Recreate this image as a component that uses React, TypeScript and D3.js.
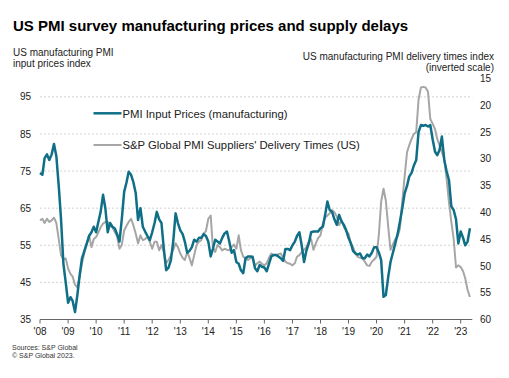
import React from "react";
import * as d3 from "d3";

// Monthly data, Jan 2008 – May 2023
const inputPrices: number[] = [
  // 2008
  74.5, 74, 78.5, 79.5, 78, 79.5, 82.3, 79, 71, 62, 50, 45,
  // 2009
  39.5, 41, 40, 37, 41.5, 47, 51.5, 53.5, 55.5, 57.5, 58.5, 60,
  // 2010
  58.5, 61.5, 64, 68.6, 65, 58.5, 61, 60, 59.5, 58, 56, 62,
  // 2011
  69.4, 72, 74.8, 74, 72, 69, 61.8, 65, 60, 58.7, 57.5, 56.4,
  // 2012
  58.5, 61, 64, 62, 61, 54, 48.3, 49, 51, 56, 63.6, 61,
  // 2013
  59, 58, 56, 53, 53.5, 54.5, 56.5, 56, 57, 57, 58, 57.5,
  // 2014
  56, 52, 54, 56.5, 56, 55.5, 57, 58.2, 58.7, 56, 53, 53.7,
  // 2015
  50.5, 50, 48.3, 47.5, 51.5, 52, 52, 51.9, 48.8, 48, 49.7, 49.2,
  // 2016
  49, 48, 50, 52, 52.4, 52.4, 52, 51.5, 50.8, 54, 54, 53.7,
  // 2017
  55, 56, 57.5, 58.5, 55, 50.5, 53.5, 55.5, 58.5, 58.7, 58.7, 58.7,
  // 2018
  59.6, 60, 63, 66.8, 64.5, 64, 62, 60.5, 63.2, 61.5, 60.5, 59.1,
  // 2019
  57, 55.5, 53.5, 52.8, 52.5, 52.8, 51.5, 51.5, 52.5, 52, 53, 54.5,
  // 2020
  54.5, 53, 51, 41.1, 41.6, 46.5, 50.5, 53, 55.5, 58, 61.4, 65,
  // 2021
  69, 71, 73.5, 74.5, 76.5, 78, 85.5, 87.4, 87.2, 87.4, 87, 87.4,
  // 2022
  83.5, 80.2, 79.3, 80.7, 84.3, 78, 75, 72.6, 65.5, 64.5, 62, 55.5,
  // 2023
  58.7, 57, 55, 56, 59.6,
];

const deliveryTimes: number[] = [
  // 2008
  41.5, 41.2, 42, 41.2, 41.8, 41.5, 41, 42, 45, 48, 48.8, 48.6,
  // 2009
  50.5, 51.5, 52, 53.5, 54, 52, 49.5, 47.5, 46, 44.3, 46.5, 45,
  // 2010
  44.6, 43.7, 42.8, 42.1, 41.8, 41.8, 42.4, 42.8, 43.7, 44.5, 46.8, 46.1,
  // 2011
  43.4, 42.5, 41.8, 41.2, 42.4, 44, 45.8, 44.3, 45.2, 45, 44.6, 45.5,
  // 2012
  46.8, 45.5, 45.5, 47.1, 46.1, 47.5, 49.5, 48.9, 48, 47, 45.8, 46.5,
  // 2013
  47.7, 48.5, 48.9, 47.4, 48.5, 49.9, 48, 46.1, 45.5, 45.2, 44, 43.5,
  // 2014
  41.2, 40.6, 46.5, 47.4, 46.1, 46.5, 47.1, 46.8, 47, 47.1, 46.5, 46,
  // 2015
  46.8, 44.3, 47, 48.3, 48.5, 48.9, 48.6, 48.5, 50, 49.5, 49.2, 49.6,
  // 2016
  49.9, 49.5, 48.5, 47.7, 48, 48, 47.8, 47.7, 48.5, 49.2, 49.5, 49.6,
  // 2017
  49.9, 49.5, 48.3, 48, 47.4, 47, 46.5, 45.5, 45, 47, 45.8, 44.8,
  // 2018
  44.3, 42.1, 41, 40.6, 40.2, 39.6, 40, 40.8, 42.4, 41.5, 42.7, 43.5,
  // 2019
  44, 45.8, 46.5, 47.7, 48.3, 48.5, 48.6, 49.2, 49.9, 50, 49.2, 48.8,
  // 2020
  48.3, 44, 38, 35.6, 37.8, 42.7, 47, 46, 45, 44.5, 43, 38,
  // 2021
  33.3, 28.8, 27.5, 26.3, 25.4, 25, 19, 16.7, 16.6, 16.7, 17.5, 22.6,
  // 2022
  23.5, 24.5, 26.3, 27.5, 28.8, 30, 33.7, 38.1, 41.8, 44.9, 50.3, 49.9,
  // 2023
  50.2, 51, 52.3, 54.5, 55.8,
];

const leftTicks: number[] = [35, 45, 55, 65, 75, 85, 95];
const rightTicks: number[] = [15, 20, 25, 30, 35, 40, 45, 50, 55, 60];
const yearTicks: number[] = d3.range(2008, 2024);

const title = "US PMI survey manufacturing prices and supply delays";
const leftTitle = ["US manufacturing PMI", "input prices index"];
const rightTitle = ["US manufacturing PMI delivery times index", "(inverted scale)"];
const legendLabels = ["PMI Input Prices (manufacturing)", "S&P Global PMI Suppliers' Delivery Times (US)"];
const sources = ["Sources: S&P Global", "© S&P Global 2023."];

const TEAL = "#0f6f86";
const GREY = "#a6a6a6";
const FONT = "'Liberation Sans', Arial, Helvetica, sans-serif";

export default function App() {
  const W = 509, H = 378;
  const plotTop = 78.3, plotBottom = 319.5;
  const x = d3.scaleTime()
    .domain([new Date(2008, 0, 1), new Date(2023, 0, 1)])
    .range([40, 460.7]);
  const yL = d3.scaleLinear().domain([35, 100]).range([plotBottom, plotTop]);
  const yR = d3.scaleLinear().domain([60, 15]).range([plotBottom, plotTop]);
  const dates = inputPrices.map((_, i) => new Date(2008, i, 1));
  const axisStart = x(new Date(2008, 0, 1));
  const axisEnd = x(new Date(2023, 5, 1));

  const lineL = d3.line<number>().x((_, i) => x(dates[i])).y(d => yL(d));
  const lineR = d3.line<number>().x((_, i) => x(dates[i])).y(d => yR(d));

  return (
    <svg width={W} height={H} style={{ position: "absolute", left: 0, top: 0, background: "#fff" }} fontFamily={FONT}>
      <rect width={W} height={H} fill="#fff" />
      <text x={13} y={31} fontSize={15} fontWeight="bold" fill="#000">{title}</text>
      {leftTitle.map((t, i) => (
        <text key={t} x={13} y={56 + i * 10.5} fontSize={10} fill="#222">{t}</text>
      ))}
      {rightTitle.map((t, i) => (
        <text key={t} x={494} y={59.5 + i * 11} fontSize={10} fill="#222" textAnchor="end">{t}</text>
      ))}
      {/* gridlines */}
      {leftTicks.filter(t => t > 35).map(t => (
        <line key={t} x1={axisStart} x2={axisEnd} y1={yL(t)} y2={yL(t)} stroke="#c8c8c8" strokeWidth={0.8} strokeDasharray="2,2" />
      ))}
      {/* left labels */}
      {leftTicks.map(t => (
        <text key={t} x={31} y={yL(t) + 3.6} fontSize={10} fill="#222" textAnchor="end">{t}</text>
      ))}
      {/* right labels */}
      {rightTicks.map(t => (
        <text key={t} x={491} y={yR(t) + 3.6} fontSize={10} fill="#222" textAnchor="end">{t}</text>
      ))}
      {/* x axis */}
      <line x1={axisStart} x2={axisEnd} y1={plotBottom} y2={plotBottom} stroke="#666" strokeWidth={1} />
      {yearTicks.map(yr => {
        const xx = x(new Date(yr, 0, 1));
        return (
          <g key={yr}>
            <line x1={xx} x2={xx} y1={plotBottom} y2={plotBottom + 4} stroke="#666" strokeWidth={1} />
            <text x={xx} y={335} fontSize={10} fill="#222" textAnchor="middle">{"'" + String(yr).slice(2)}</text>
          </g>
        );
      })}
      {/* series */}
      <path d={lineR(deliveryTimes) || ""} fill="none" stroke={GREY} strokeWidth={2} strokeLinejoin="round" />
      <path d={lineL(inputPrices) || ""} fill="none" stroke={TEAL} strokeWidth={2.5} strokeLinejoin="round" />
      {/* legend */}
      <line x1={93.5} x2={121.5} y1={113.3} y2={113.3} stroke={TEAL} strokeWidth={2.5} />
      <text x={122.5} y={117.5} fontSize={11.3} fill="#222">{legendLabels[0]}</text>
      <line x1={93.5} x2={121.5} y1={145} y2={145} stroke={GREY} strokeWidth={2} />
      <text x={122.5} y={149} fontSize={11.3} fill="#222">{legendLabels[1]}</text>
      {/* sources */}
      {sources.map((s, i) => (
        <text key={s} x={12} y={350 + i * 8} fontSize={7} fill="#333">{s}</text>
      ))}
    </svg>
  );
}
